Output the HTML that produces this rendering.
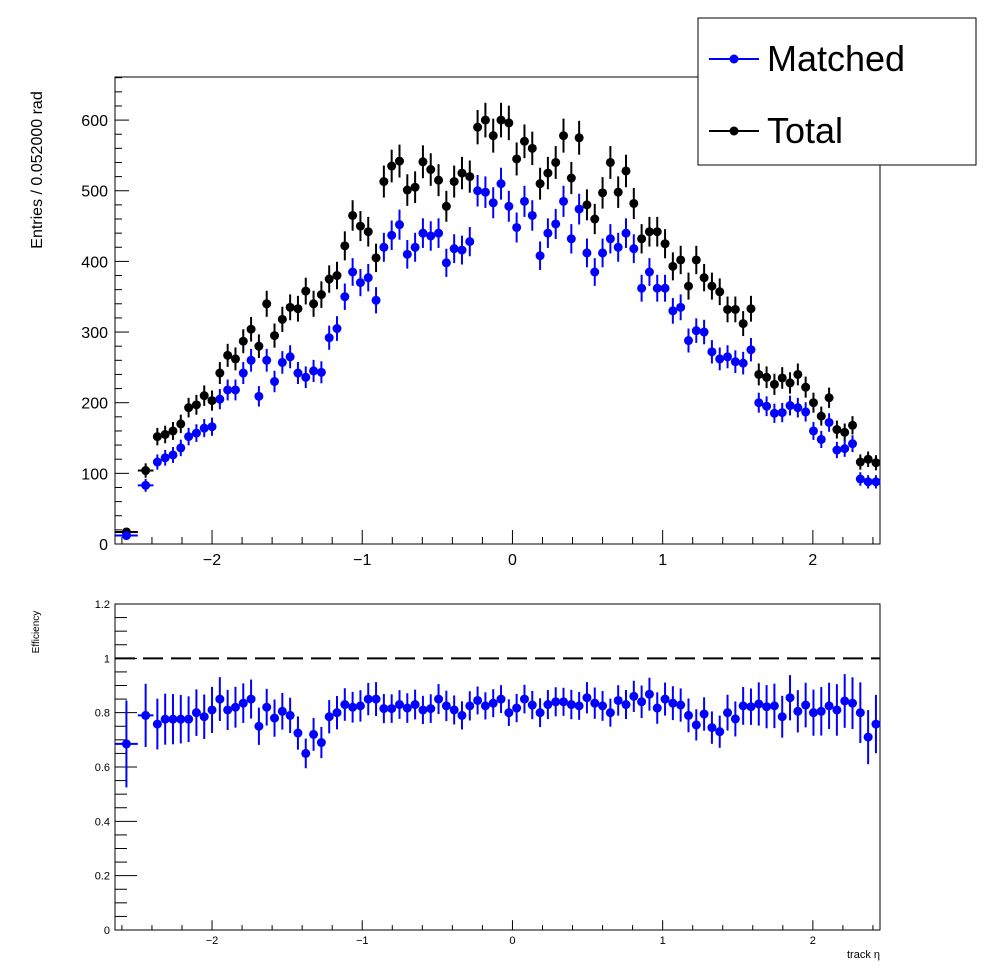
<!DOCTYPE html>
<html><head><meta charset="utf-8"><style>
body{margin:0;background:#fff;}
svg text{font-family:"Liberation Sans",sans-serif;}
</style></head><body>
<svg id="c" width="996" height="972" xmlns="http://www.w3.org/2000/svg"></svg>
<script>
const totalVals=[17,104,152,155,160,170,193,197,210,203,242,267,262,287,304,280,340,295,318,335,333,358,340,353,375,380,422,465,450,442,405,513,535,542,501,505,541,530,515,478,513,525,520,590,600,578,600,596,545,570,560,510,525,540,578,518,575,480,460,497,540,498,528,482,432,442,442,425,393,402,365,402,377,365,357,332,332,312,333,240,236,226,235,228,240,222,200,181,207,162,158,168,116,120,115];
const matchedVals=[12,83,116,122,126,136,152,157,164,166,205,218,218,242,260,209,260,230,257,265,242,236,245,243,292,305,350,385,370,377,345,420,437,452,410,420,440,436,440,398,418,416,428,500,498,483,510,478,448,485,465,408,440,453,485,432,474,412,385,412,432,420,440,418,362,385,362,362,330,335,288,302,300,272,262,265,258,256,275,200,195,185,186,196,193,187,160,148,172,133,135,142,92,88,88];
const effVals=[0.685,0.79,0.758,0.776,0.776,0.776,0.776,0.80,0.785,0.81,0.85,0.81,0.82,0.835,0.85,0.75,0.82,0.78,0.805,0.79,0.725,0.65,0.72,0.69,0.785,0.80,0.83,0.82,0.825,0.85,0.85,0.815,0.815,0.83,0.817,0.83,0.81,0.815,0.85,0.825,0.81,0.79,0.825,0.845,0.825,0.835,0.85,0.80,0.817,0.85,0.828,0.80,0.83,0.84,0.84,0.83,0.825,0.855,0.835,0.825,0.80,0.845,0.83,0.86,0.84,0.868,0.817,0.85,0.835,0.828,0.79,0.755,0.795,0.745,0.73,0.80,0.777,0.825,0.822,0.832,0.822,0.825,0.785,0.855,0.805,0.828,0.80,0.805,0.825,0.81,0.843,0.835,0.80,0.71,0.758];
const topYTicks=[0,100,200,300,400,500,600];
const botYTicks=[0,0.2,0.4,0.6,0.8,1,1.2];
const botYLabels=["0","0.2","0.4","0.6","0.8","1","1.2"];
const xTicks=[-2,-1,0,1,2];
const xLabels=["\u22122","\u22121","0","1","2"];

const NS="http://www.w3.org/2000/svg";
const svg=document.getElementById('c');
function el(t,a,p){const e=document.createElementNS(NS,t);for(const k in a)e.setAttribute(k,a[k]);(p||svg).appendChild(e);return e;}
const XL=115,XR=880,XMIN=-2.646,XMAX=2.447;
const X=v=>XL+(v-XMIN)/(XMAX-XMIN)*(XR-XL);
const TY0=544,TY1=77,TMAX=661;
const YT=v=>TY0-v/TMAX*(TY0-TY1);
const BY0=930,BY1=604;
const YB=v=>BY0-v/1.2*(BY0-BY1);
// bin edges
const edges=[XMIN,-2.494,-2.39];
for(let i=1;i<=93;i++)edges.push(-2.39+i*0.052);
function center(i){return (edges[i]+edges[i+1])/2;}

function frame(y0,y1,name){
 const r=el('rect',{x:XL,y:y1,width:XR-XL,height:y0-y1,fill:'none',stroke:'#000','stroke-width':1});
 
}
frame(TY0,TY1,'top-plot-frame');frame(BY0,BY1,'bottom-plot-frame');

function xAxis(y0,y1,fs,labY,pfx){
 const g=el('g',{});
 for(let v=-2.6;v<=2.45;v+=0.2){const vv=Math.round(v*10)/10;const maj=Math.abs(vv-Math.round(vv))<1e-6;
  const L=maj?(y0-y1)*0.03:(y0-y1)*0.015;
  el('line',{x1:X(vv),x2:X(vv),y1:y0,y2:y0-L,stroke:'#000','stroke-width':1},g);}
 xTicks.forEach((v,i)=>{const t=el('text',{x:X(v),y:labY,'font-size':fs,'text-anchor':'middle'},g);t.textContent=xLabels[i];});
}
xAxis(TY0,TY1,16,565,'top');xAxis(BY0,BY1,11,944,'bottom');

// top y axis
{const g=el('g',{});
 for(let v=0;v<=660;v+=20){const maj=v%100===0;el('line',{x1:XL,x2:XL+(maj?14:7),y1:YT(v),y2:YT(v),stroke:'#000'},g);}
 topYTicks.forEach(v=>{const t=el('text',{x:108,y:YT(v)+6,'font-size':16,'text-anchor':'end'},g);t.textContent=v;});
 const tt=el('text',{x:42,y:170,'font-size':16,'text-anchor':'middle',transform:'rotate(-90 42 170)'},g);tt.textContent='Entries / 0.052000 rad';
 }
// bottom y axis
{const g=el('g',{});
 for(let v=0;v<=1.2001;v+=0.05){const vv=Math.round(v*100)/100;const maj=Math.abs(vv*5-Math.round(vv*5))<1e-6;el('line',{x1:XL,x2:XL+(maj?22:12),y1:YB(vv),y2:YB(vv),stroke:'#000'},g);}
 botYTicks.forEach((v,i)=>{const t=el('text',{x:110,y:YB(v)+4,'font-size':11,'text-anchor':'end'},g);t.textContent=botYLabels[i];});
 const tt=el('text',{x:39,y:632,'font-size':10,'text-anchor':'middle',transform:'rotate(-90 39 632)'},g);tt.textContent='Efficiency';
 
 const xt=el('text',{x:880,y:958,'font-size':11,'text-anchor':'end'},g);xt.textContent='track \u03b7';
 }

// dashed line at 1
{const l=el('line',{x1:XL,x2:XR,y1:YB(1),y2:YB(1),stroke:'#000','stroke-width':2,'stroke-dasharray':'20,8'});
 }

function series(vals,color,name,errFn,Y){
 const g=el('g',{});
 vals.forEach((v,i)=>{
  const cx=X(center(i)),cy=Y(v),e=errFn(v,i);
  const p=el('g',{},g);
  
  
  el('line',{x1:X(edges[i]),x2:X(edges[i+1]),y1:cy,y2:cy,stroke:color,'stroke-width':2},p);
  el('line',{x1:cx,x2:cx,y1:Math.max(Y(v+e),BY1-1000),y2:Y(Math.max(v-e,0)),stroke:color,'stroke-width':2},p);
  el('circle',{cx:cx,cy:cy,r:4.5,fill:color},p);
 });
}
series(totalVals,'#000','total-series',v=>Math.sqrt(v),YT);
series(matchedVals,'#0000ff','matched-series',v=>Math.sqrt(v),YT);
series(effVals,'#0000ff','efficiency-series',(v,i)=>Math.min(v*Math.sqrt(1/matchedVals[i]+1/totalVals[i]),0.16),YB);

// legend
{const g=el('g',{});
 el('rect',{x:698,y:18,width:278,height:147,fill:'#fff',stroke:'#000'},g);
 const items=[['Matched','#0000ff',59],['Total','#000',131]];
 items.forEach(([n,c,y])=>{const e=el('g',{},g);
  
  el('line',{x1:709,x2:759,y1:y,y2:y,stroke:c,'stroke-width':2},e);
  el('circle',{cx:734,cy:y,r:4.5,fill:c},e);
  const t=el('text',{x:767,y:y+12,'font-size':36},e);t.textContent=n;});}
</script>
</body></html>
